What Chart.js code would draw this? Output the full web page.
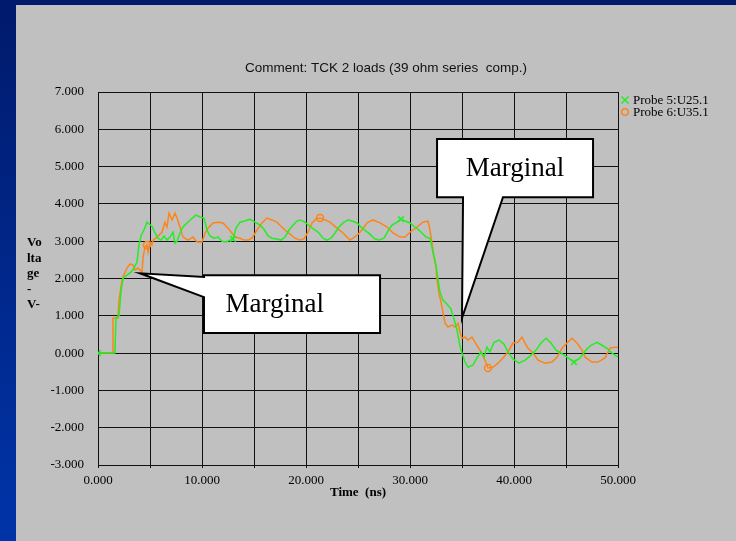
<!DOCTYPE html>
<html>
<head>
<meta charset="utf-8">
<script src="https://cdn.jsdelivr.net/npm/chart.js@4.4.1/dist/chart.umd.min.js"></script>
<style>
  html, body { margin: 0; padding: 0; width: 736px; height: 541px; overflow: hidden;
    background: linear-gradient(#001a6c, #0034a8); }
  #panel { position: absolute; left: 16px; top: 5px; right: 0; bottom: 0; background: #c0c0c0; }
  #chart { position: absolute; left: 0; top: 0; }
</style>
</head>
<body>
<div id="panel"></div>
<canvas id="chart" width="736" height="541"></canvas>
<script>
// Probe 5 (green) - time in ns, voltage in V
const timeProbe5 = [0, 1.63, 1.73, 2.02, 2.21, 2.40, 2.79, 3.17, 3.46, 3.75, 3.94, 4.13, 4.42, 4.71, 4.90, 5.19, 5.48, 5.77,
  6.06, 6.35, 6.63, 6.92, 7.21, 7.40, 7.60, 7.88, 8.17, 8.56, 8.94, 9.42, 9.81, 10.19, 10.48, 10.77, 11.15, 11.54, 11.92,
  12.31, 12.69, 12.98, 13.27, 13.65, 14.13, 14.62, 15.10, 15.58, 15.96, 16.35, 16.73, 17.21, 17.60, 17.98, 18.37, 18.75,
  19.13, 19.42, 19.90, 20.38, 20.77, 21.25, 21.63, 22.02, 22.40, 22.79, 23.17, 23.56, 24.04, 24.42, 24.90, 25.29, 25.77,
  26.15, 26.63, 27.02, 27.50, 27.88, 28.27, 28.75, 29.13, 29.52, 30.00, 30.38, 30.77, 31.15, 31.54, 31.92, 32.21, 32.50,
  32.69, 32.88, 33.17, 33.56, 33.94, 34.23, 34.52, 34.81, 35.00, 35.29, 35.58, 36.06, 36.44, 36.83, 37.12, 37.40, 37.69,
  38.08, 38.56, 39.04, 39.42, 39.90, 40.48, 41.06, 41.54, 42.12, 42.60, 43.08, 43.56, 44.04, 44.52, 45.10, 45.77, 46.35,
  46.92, 47.40, 47.98, 48.46, 48.94, 49.42, 50.00];
const voltProbe5 = [0, 0, 0.94, 0.99, 1.64, 2.01, 2.09, 2.17, 2.28, 2.44, 2.90, 3.14, 3.30, 3.51, 3.46, 3.40, 3.22, 3.08,
  3.03, 3.14, 3.03, 3.11, 3.24, 2.95, 3.00, 3.22, 3.38, 3.49, 3.59, 3.70, 3.65, 3.62, 3.30, 3.14, 3.08, 3.11, 3.00,
  2.98, 3.03, 3.06, 3.35, 3.51, 3.54, 3.59, 3.51, 3.43, 3.32, 3.14, 3.08, 3.06, 3.03, 3.11, 3.30, 3.43,
  3.54, 3.57, 3.51, 3.40, 3.32, 3.22, 3.08, 3.03, 3.08, 3.22, 3.38, 3.49, 3.57, 3.54, 3.49, 3.38, 3.27,
  3.19, 3.06, 3.03, 3.08, 3.27, 3.43, 3.51, 3.59, 3.54, 3.49, 3.40, 3.32, 3.22, 3.11, 3.08, 2.71, 2.36,
  1.98, 1.64, 1.42, 1.31, 1.18, 0.91, 0.62, 0.19, 0.00, -0.24, -0.38, -0.32, -0.13, 0.03, -0.11, 0.16, 0.03,
  0.29, 0.35, 0.24, 0.03, -0.16, -0.27, -0.19, -0.08, 0.08, 0.27, 0.40, 0.27, 0.08, 0.00, -0.11, -0.24, -0.13,
  0.08, 0.21, 0.29, 0.21, 0.13, 0.00, -0.11];

// Probe 6 (orange)
const timeProbe6 = [0, 1.35, 1.44, 1.92, 2.02, 2.31, 2.40, 2.79, 3.08, 3.37, 3.56, 3.85, 4.23, 4.33, 4.52, 4.71, 4.81, 5.00,
  5.19, 5.29, 5.67, 6.15, 6.44, 6.63, 6.83, 7.12, 7.40, 7.60, 7.88, 8.17, 8.65, 9.13, 9.52, 10.00, 10.29, 10.58, 11.06,
  11.54, 12.02, 12.50, 12.88, 13.17, 13.65, 14.04, 14.42, 14.81, 15.29, 15.77, 16.25, 16.73, 17.21, 17.60, 17.98, 18.46,
  18.94, 19.42, 19.81, 20.19, 20.58, 20.96, 21.35, 21.83, 22.31, 22.98, 23.56, 24.23, 24.52, 24.90, 25.19, 25.58, 25.87,
  26.44, 27.12, 27.79, 28.37, 29.04, 29.52, 30.00, 30.67, 31.25, 31.73, 31.92, 32.12, 32.31, 32.50, 32.60, 32.79, 33.08,
  33.37, 33.65, 34.04, 34.33, 34.62, 34.81, 35.00, 35.29, 35.58, 35.96, 36.25, 36.73, 37.21, 37.50, 37.98, 38.46, 38.94,
  39.42, 39.90, 40.38, 40.77, 41.06, 41.35, 41.83, 42.31, 42.98, 43.65, 44.13, 44.62, 45.10, 45.58, 46.06, 46.54, 46.83,
  47.50, 48.08, 48.75, 49.23, 49.71, 50.00];
const voltProbe6 = [0, 0, 0.94, 0.94, 1.42, 1.96, 2.04, 2.28, 2.39, 2.36, 2.23, 2.28, 2.17, 2.57, 2.84, 2.90, 2.71, 2.98,
  2.90, 3.03, 3.11, 3.24, 3.51, 3.38, 3.75, 3.57, 3.75, 3.62, 3.38, 3.11, 3.03, 3.11, 2.98, 2.98, 3.22, 3.35, 3.49,
  3.51, 3.49, 3.35, 3.22, 3.11, 3.08, 3.03, 3.03, 3.08, 3.30, 3.49, 3.62, 3.57, 3.51, 3.40, 3.30, 3.19,
  3.08, 3.03, 3.06, 3.24, 3.49, 3.59, 3.62, 3.57, 3.51, 3.35, 3.22, 3.03, 3.08, 3.16, 3.24, 3.38, 3.49,
  3.57, 3.49, 3.38, 3.22, 3.11, 3.11, 3.24, 3.38, 3.51, 3.54, 3.30, 2.95, 2.55, 2.31, 1.96, 1.61, 1.23,
  0.80, 0.70, 0.75, 0.70, 0.80, 0.56, 0.40, 0.43, 0.35, 0.43, 0.29, 0.08, -0.19, -0.40, -0.38, -0.27, -0.13,
  0.03, 0.27, 0.29, 0.43, 0.27, 0.13, 0.00, -0.19, -0.27, -0.24, -0.11, 0.13, 0.27, 0.40, 0.27, 0.08, -0.11,
  -0.24, -0.24, -0.13, 0.13, 0.16, 0.16];

// sample times carrying a marker symbol
const marksProbe5 = [0, 12.98, 29.13, 45.77];
const marksProbe6 = [4.71, 21.35, 37.50];

const seriesNames = ['Probe 5:U25.1', 'Probe 6:U35.1'];
const seriesColors = ['#22ee22', '#ff8418'];
const chartTitle = 'Comment: TCK 2 loads (39 ohm series  comp.)';
const xTitle = 'Time  (ns)';
const yTitleLines = ['Vo', 'lta', 'ge', '-', 'V-'];

// callouts, anchored in data units (ns, V)
const callouts = [
  { text: 'Marginal', box: [10.19, 27.12, 2.09, 0.54], textAt: 17.0,
    side: 'left', base: [2.04, 1.50], tip: [4.04, 2.14] },
  { text: 'Marginal', box: [32.6, 47.6, 5.74, 4.18], textAt: 40.1,
    side: 'bottom', base: [35.1, 38.94], tip: [35.0, 0.94] }
];

const SERIF = '"Liberation Serif", "Times New Roman", serif';
const SANS = '"Liberation Sans", Arial, sans-serif';

const toPoints = (ts, vs) => ts.map((t, i) => ({ x: t, y: vs[i] }));

const decor = {
  id: 'decor',
  afterDraw(chart) {
    const ctx = chart.ctx;
    const xs = chart.scales.x, ys = chart.scales.y;
    ctx.save();

    // title
    ctx.font = '13.5px ' + SANS;
    ctx.fillStyle = '#111';
    ctx.textAlign = 'center';
    ctx.textBaseline = 'middle';
    ctx.fillText(chartTitle, 386, 68);

    // axis titles
    ctx.fillStyle = '#000';
    ctx.font = 'bold 13px ' + SERIF;
    ctx.fillText(xTitle, (xs.left + xs.right) / 2, 493);
    ctx.textAlign = 'left';
    yTitleLines.forEach((s, i) => ctx.fillText(s, 27, 243 + i * 15.5));

    // legend
    ctx.font = '13px ' + SERIF;
    seriesNames.forEach((name, i) => {
      const y = 100 + i * 12;
      const x = 625;
      ctx.strokeStyle = seriesColors[i];
      ctx.lineWidth = 1.5;
      ctx.beginPath();
      if (i === 0) {
        ctx.moveTo(x - 3.5, y - 3.5); ctx.lineTo(x + 3.5, y + 3.5);
        ctx.moveTo(x + 3.5, y - 3.5); ctx.lineTo(x - 3.5, y + 3.5);
      } else {
        ctx.arc(x, y, 3.3, 0, Math.PI * 2);
      }
      ctx.stroke();
      ctx.fillStyle = '#000';
      ctx.fillText(name, 633, y + 1);
    });

    // callouts
    callouts.forEach(c => {
      const L = xs.getPixelForValue(c.box[0]), R = xs.getPixelForValue(c.box[1]);
      const T = ys.getPixelForValue(c.box[2]), B = ys.getPixelForValue(c.box[3]);
      const tx = xs.getPixelForValue(c.tip[0]), ty = ys.getPixelForValue(c.tip[1]);
      ctx.beginPath();
      if (c.side === 'left') {
        const a = ys.getPixelForValue(c.base[0]), b = ys.getPixelForValue(c.base[1]);
        ctx.moveTo(L, T); ctx.lineTo(R, T); ctx.lineTo(R, B); ctx.lineTo(L, B);
        ctx.lineTo(L, b); ctx.lineTo(tx, ty); ctx.lineTo(L, a);
      } else {
        const a = xs.getPixelForValue(c.base[0]), b = xs.getPixelForValue(c.base[1]);
        ctx.moveTo(L, T); ctx.lineTo(R, T); ctx.lineTo(R, B); ctx.lineTo(b, B);
        ctx.lineTo(tx, ty); ctx.lineTo(a, B); ctx.lineTo(L, B);
      }
      ctx.closePath();
      ctx.fillStyle = '#fff';
      ctx.fill();
      ctx.strokeStyle = '#000';
      ctx.lineWidth = 2;
      ctx.lineJoin = 'miter';
      ctx.stroke();
      ctx.fillStyle = '#000';
      ctx.font = '27px ' + SERIF;
      ctx.textAlign = 'center';
      ctx.textBaseline = 'middle';
      ctx.fillText(c.text, xs.getPixelForValue(c.textAt), (T + B) / 2 + 1);
    });
    ctx.restore();
  }
};

new Chart(document.getElementById('chart'), {
  type: 'line',
  data: {
    datasets: [
      {
        label: seriesNames[0],
        data: toPoints(timeProbe5, voltProbe5),
        borderColor: seriesColors[0],
        borderWidth: 1.5,
        pointStyle: 'crossRot',
        pointBorderColor: seriesColors[0],
        pointBorderWidth: 1.5,
        pointRadius: c => marksProbe5.includes(timeProbe5[c.dataIndex]) ? 4 : 0,
        tension: 0
      },
      {
        label: seriesNames[1],
        data: toPoints(timeProbe6, voltProbe6),
        borderColor: seriesColors[1],
        borderWidth: 1.5,
        pointStyle: 'circle',
        pointBorderColor: seriesColors[1],
        pointBackgroundColor: 'rgba(0,0,0,0)',
        pointBorderWidth: 1.5,
        pointRadius: c => marksProbe6.includes(timeProbe6[c.dataIndex]) ? 3.5 : 0,
        tension: 0
      }
    ]
  },
  options: {
    responsive: false,
    animation: false,
    events: [],
    layout: { padding: { top: 92, right: 118, left: 0, bottom: 0 } },
    plugins: { legend: { display: false }, tooltip: { enabled: false } },
    scales: {
      x: {
        type: 'linear',
        min: 0,
        max: 50,
        afterFit: s => { s.height = 76; },
        grid: { color: '#111', lineWidth: 1, tickLength: 3, drawTicks: true },
        border: { color: '#111', width: 1 },
        ticks: {
          stepSize: 5,
          autoSkip: false,
          maxRotation: 0,
          padding: 5,
          color: '#000',
          font: { family: SERIF, size: 13 },
          callback: v => (v % 10 === 0 ? v.toFixed(3) : '')
        }
      },
      y: {
        min: -3,
        max: 7,
        afterFit: s => { s.width = 98; },
        grid: { color: '#111', lineWidth: 1, drawTicks: false },
        border: { color: '#111', width: 1 },
        ticks: {
          stepSize: 1,
          padding: 14,
          color: '#000',
          font: { family: SERIF, size: 13 },
          callback: v => v.toFixed(3)
        }
      }
    }
  },
  plugins: [decor]
});
</script>
</body>
</html>
